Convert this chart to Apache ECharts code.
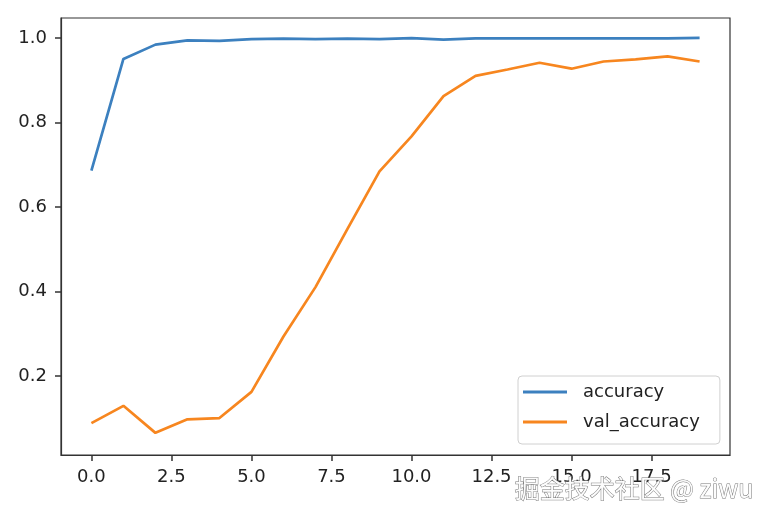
<!DOCTYPE html>
<html>
<head>
<meta charset="utf-8">
<script src="https://cdn.jsdelivr.net/npm/echarts@6/dist/echarts.min.js"></script>
<style>
html,body{margin:0;padding:0;background:#fff;}
#main{width:771px;height:521px;}
</style>
</head>
<body>
<div id="main"></div>
<script>
const epochs = [0,1,2,3,4,5,6,7,8,9,10,11,12,13,14,15,16,17,18,19];
const accuracy = [0.686,0.950,0.984,0.994,0.993,0.997,0.998,0.997,0.998,0.997,0.9995,0.996,0.999,0.999,0.999,0.999,0.999,0.999,0.999,1.0];
const valAccuracy = [0.088,0.129,0.065,0.097,0.100,0.162,0.293,0.410,0.548,0.684,0.767,0.862,0.910,0.925,0.941,0.927,0.944,0.949,0.956,0.944];
const xTicks = [0,2.5,5,7.5,10,12.5,15,17.5];
const yTicks = [0.2,0.4,0.6,0.8,1.0];

const font = 'DejaVu Sans';
const chart = echarts.init(document.getElementById('main'), null, {renderer:'canvas'});
chart.setOption({
  animation:false,
  backgroundColor:'#fff',
  grid:{left:61,top:18,right:41,bottom:66,show:true,borderColor:'#333',borderWidth:1.2,backgroundColor:'transparent'},
  xAxis:{
    type:'value',min:-0.95,max:19.95,position:'bottom',
    axisLine:{show:true,onZero:false,lineStyle:{color:'#333',width:1.2}},
    splitLine:{show:false},
    axisTick:{show:true,inside:false,length:6,lineStyle:{color:'#333',width:1.5},customValues:xTicks},
    axisLabel:{customValues:xTicks,margin:13,color:'#222',fontFamily:font,fontSize:18,
      formatter:v=>v.toFixed(1)}
  },
  yAxis:{
    type:'value',min:0.0126,max:1.047,position:'left',
    axisLine:{show:true,onZero:false,lineStyle:{color:'#333',width:1.2}},
    splitLine:{show:false},
    axisTick:{show:true,inside:false,length:6,lineStyle:{color:'#333',width:1.5},customValues:yTicks},
    axisLabel:{customValues:yTicks,margin:14,color:'#222',fontFamily:font,fontSize:18,
      formatter:v=>v.toFixed(1)}
  },
  legend:{
    orient:'vertical',left:518,top:376,
    icon:'rect',itemWidth:44,itemHeight:3,itemGap:12,
    padding:[7,20,13,5],
    backgroundColor:'rgba(255,255,255,0.8)',borderColor:'#d0d0d0',borderWidth:1,borderRadius:4,
    textStyle:{fontFamily:font,fontSize:18,color:'#222',padding:[0,0,0,11]},
    data:['accuracy','val_accuracy']
  },
  series:[
    {name:'accuracy',type:'line',showSymbol:false,symbol:'none',
     lineStyle:{color:'#3c80bf',width:2.7},itemStyle:{color:'#3c80bf'},
     data:epochs.map((e,i)=>[e,accuracy[i]])},
    {name:'val_accuracy',type:'line',showSymbol:false,symbol:'none',
     lineStyle:{color:'#f7861f',width:2.7},itemStyle:{color:'#f7861f'},
     data:epochs.map((e,i)=>[e,valAccuracy[i]])}
  ],
  graphic:[{
    type:'text',right:17,top:475,z:100,
    style:{text:'掘金技术社区 @ ziwu',font:'25px "Noto Sans CJK SC", "Noto Sans", sans-serif',
      fill:'#fcfcfc',stroke:'#777',lineWidth:1}
  }]
});
</script>
</body>
</html>
